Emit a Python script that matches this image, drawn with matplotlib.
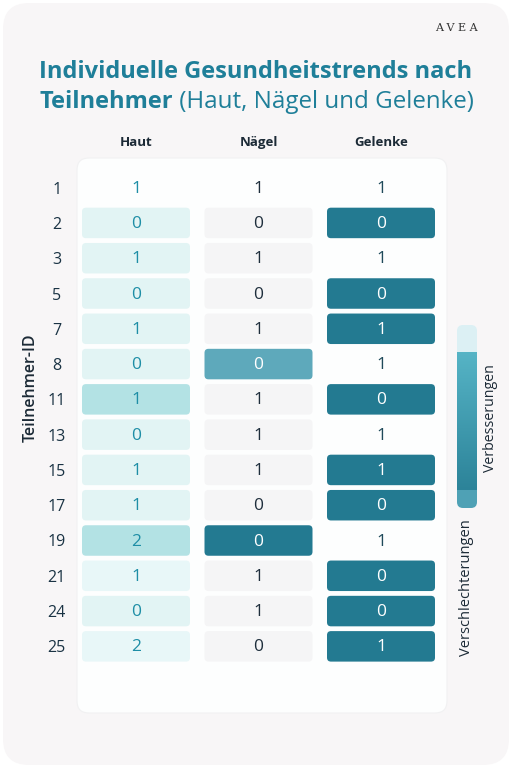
import numpy as np
import matplotlib.pyplot as plt
from matplotlib.patches import FancyBboxPatch

plt.rcParams['font.family'] = ['Open Sans', 'DejaVu Sans']

# Daten
teilnehmer = [1, 2, 3, 5, 7, 8, 11, 13, 15, 17, 19, 21, 24, 25]
kategorien = ['Haut', 'Nägel', 'Gelenke']
haut = [1, 0, 1, 0, 1, 0, 1, 0, 1, 1, 2, 1, 0, 2]
naegel = [1, 0, 1, 0, 1, 0, 1, 1, 1, 0, 0, 1, 1, 0]
gelenke = [1, 0, 1, 0, 1, 1, 0, 1, 1, 0, 1, 0, 0, 1]

# Farbstufe je Zelle (n = ohne Füllung)
haut_stufe = ['n', 'h1', 'h1', 'h1', 'h1', 'h1', 'h2', 'h1', 'h1', 'h1', 'h2', 'h0', 'h1', 'h0']
naegel_stufe = ['n', 'g', 'g', 'g', 'g', 'm', 'g', 'g', 'g', 'g', 'd', 'g', 'g', 'g']
gelenke_stufe = ['n', 'd', 'n', 'd', 'd', 'n', 'd', 'n', 'd', 'd', 'n', 'd', 'd', 'd']

farben = {'n': None, 'h0': '#e8f7f8', 'h1': '#e2f4f4', 'h2': '#b3e2e4',
          'g': '#f5f5f6', 'm': '#5ea9bb', 'd': '#237a91'}
text_farbe = ['#1e8ea6', '#1e2e3c', '#1f4a5a']

W, H = 512, 768
fig = plt.figure(figsize=(W / 100, H / 100), dpi=100)
fig.patch.set_facecolor('white')

# Hintergrund in Pixelkoordinaten
bg = fig.add_axes([0, 0, 1, 1], zorder=0)
bg.set_xlim(0, W)
bg.set_ylim(H, 0)
bg.axis('off')
bg.add_patch(FancyBboxPatch((3, 3), W - 6, H - 6, boxstyle='round,pad=0,rounding_size=26',
                            fc='#f8f6f7', ec='none'))
bg.add_patch(FancyBboxPatch((77, 158), 370, 555, boxstyle='round,pad=0,rounding_size=12',
                            fc='#fdfefe', ec='#f1f1f2', lw=0.8))

# Titel
bg.text(256, 72, 'Individuelle Gesundheitstrends nach', ha='center', va='center',
        fontsize=17, fontweight='bold', color='#1f7f99')
t1 = bg.text(39, 102, 'Teilnehmer', ha='left', va='center',
             fontsize=17, fontweight='bold', color='#1f7f99')
bg.annotate(' (Haut, Nägel und Gelenke)', xy=(1, 0), xycoords=t1, ha='left', va='bottom',
            fontsize=17.4, color='#1f7f99')
bg.text(456, 28, 'A V E A', ha='center', va='center', fontsize=8,
        fontweight='light', color='#333333', family=['DejaVu Serif'])

bg.text(31, 388, 'Teilnehmer-ID', rotation=90, ha='center', va='center',
        fontsize=11.5, fontweight='semibold', color='#1c2a36')

# Farbskala
grad = np.concatenate([
    np.tile(np.array([[0.863, 0.945, 0.957]]), (27, 1)),
    np.linspace([0.337, 0.706, 0.776], [0.173, 0.514, 0.600], 138),
    np.tile(np.array([[0.310, 0.635, 0.710]]), (18, 1)),
])
im = bg.imshow(grad[:, None, :], extent=(457, 477, 508, 325), aspect='auto', zorder=2)
clip = FancyBboxPatch((457, 325), 20, 183, boxstyle='round,pad=0,rounding_size=6',
                      fc='none', ec='none', transform=bg.transData)
bg.add_patch(clip)
im.set_clip_path(clip)
bg.set_xlim(0, W)
bg.set_ylim(H, 0)
bg.text(491, 418, 'Verbesserungen', rotation=90, ha='center', va='center',
        fontsize=10.2, color='#1c2a36')
bg.text(466, 588, 'Verschlechterungen', rotation=90, ha='center', va='center',
        fontsize=10.5, color='#1c2a36')

# Tabelle
x0, x1, y0, y1 = 74.75, 442.25, 170, 664
ax = fig.add_axes([x0 / W, 1 - y1 / H, (x1 - x0) / W, (y1 - y0) / H], zorder=1)
ax.patch.set_alpha(0)
n = len(teilnehmer)
ax.set_xlim(-0.5, len(kategorien) - 0.5)
ax.set_ylim(n - 0.5, -0.5)
for s in ax.spines.values():
    s.set_visible(False)

px_x = (x1 - x0) / len(kategorien)
px_y = (y1 - y0) / n
aspect = px_x / px_y
bw, bh = 108 / px_x, 30.5 / px_y

werte = [haut, naegel, gelenke]
stufen = [haut_stufe, naegel_stufe, gelenke_stufe]
for j in range(len(kategorien)):
    for i in range(n):
        st = stufen[j][i]
        fc = farben[st]
        if fc is not None:
            ax.add_patch(FancyBboxPatch((j - bw / 2, i - bh / 2), bw, bh,
                                        boxstyle='round,pad=0,rounding_size=%f' % (4 / px_x),
                                        mutation_aspect=aspect, fc=fc, ec='none'))
        col = 'white' if st in ('d', 'm') else text_farbe[j]
        ax.text(j, i + 0.03, str(werte[j][i]), ha='center', va='center',
                fontsize=12.5, color=col)

ax.set_yticks(range(n))
ax.set_yticklabels([str(t) for t in teilnehmer], fontsize=11.5, fontweight='medium',
                   color='#1a3344')
for lab in ax.get_yticklabels():
    lab.set_ha('center')
ax.tick_params(axis='y', length=0, pad=13)
ax.xaxis.tick_top()
ax.set_xticks(range(len(kategorien)))
ax.set_xticklabels(kategorien, fontsize=9.5, fontweight='bold', color='#1c2a36')
ax.tick_params(axis='x', length=0, pad=15)

fig.savefig('out.png', dpi=100, facecolor='white')
